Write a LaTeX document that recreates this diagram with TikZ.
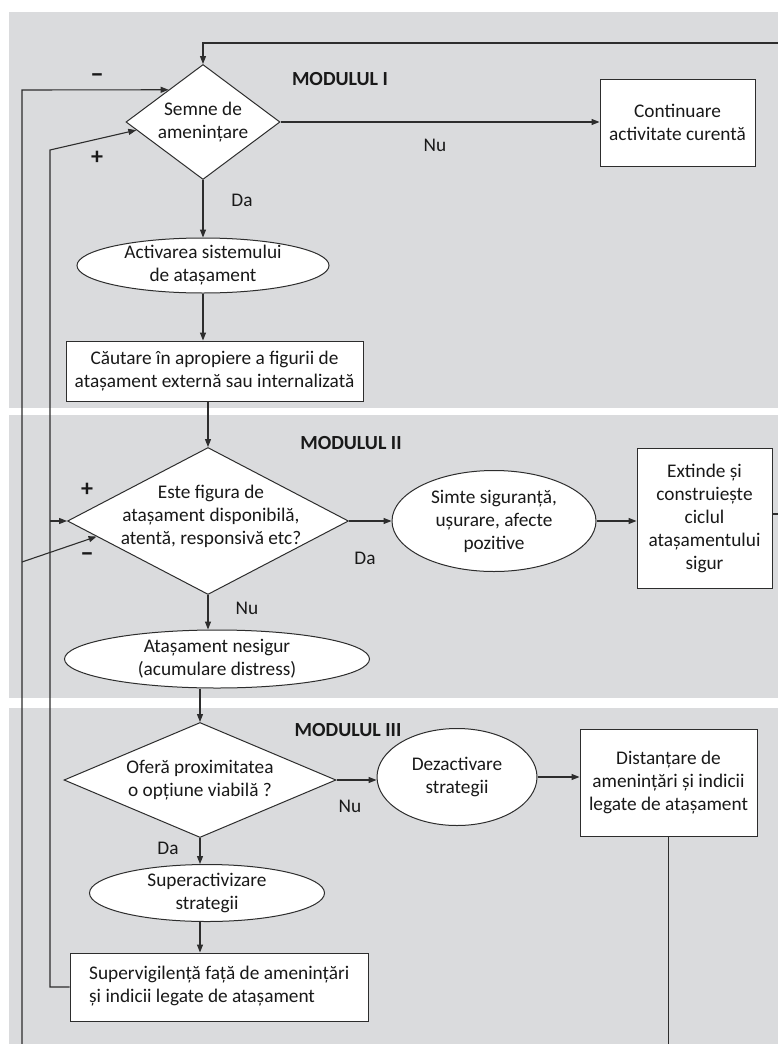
\documentclass[tikz,border=0pt]{standalone}
\usepackage{fontspec}
\setmainfont{Carlito}
\usetikzlibrary{shapes.geometric,arrows.meta,calc}
\definecolor{bg}{RGB}{218,219,221}
\definecolor{lc}{RGB}{45,45,45}
\definecolor{tc}{RGB}{25,25,25}
\begin{document}
\begin{tikzpicture}[x=1pt,y=-1pt,
  every node/.style={font=\fontsize{19.3}{23}\selectfont, text=tc},
  shp/.style={draw=lc, fill=white, line width=1pt, inner sep=0pt},
  dia/.style={shp, diamond},
  ell/.style={shp, ellipse},
  box/.style={shp, rectangle, align=center},
  txt/.style={align=center, inner sep=0pt},
  conn/.style={draw=lc, line width=1.1pt},
  arr/.style={conn, -{Triangle[length=8pt,width=6pt]}},
  modl/.style={font=\fontsize{20}{24}\selectfont\bfseries},
  sgn/.style={font=\fontsize{24}{26}\selectfont\bfseries, inner sep=0pt},
  mns/.style={font=\fontsize{27}{28}\selectfont\bfseries, inner sep=0pt}
]
\useasboundingbox (0,0) rectangle (778,1044);
\clip (0,0) rectangle (778,1044);
\fill[white] (0,0) rectangle (778,1044);
\fill[bg] (9,12) rectangle (778,1044);
\fill[white] (9,408) rectangle (778,415);
\fill[white] (9,698) rectangle (778,708);

% Module I
\node[dia, minimum width=154pt, minimum height=115pt] (d1) at (203,122) {};
\node[txt] at (d1) {Semne de\\amenințare};
\node[modl] at (340,79) {MODULUL I};
\node[box, minimum width=155pt, minimum height=87pt] (c1) at (677.5,122.5) {Continuare\\activitate curentă};
\coordinate (tr) at (778,43);
\draw[arr] (tr) -| (d1.north);
\draw[arr] (d1.east) -- (d1.east -| c1.west);
\node at (435,145) {Nu};
\node at (242,200) {Da};
\node[ell, minimum width=252pt, minimum height=55pt] (e1) at (203,265.5) {};
\node[txt] at (e1) {Activarea sistemului\\de atașament};
\draw[arr] (d1.south) -- (e1.north);
\node[box, minimum width=297pt, minimum height=60pt] (b2) at (214.5,371) {Căutare în apropiere a figurii de\\atașament externă sau internalizată};
\draw[arr] (e1.south) -- (e1.south |- b2.north);

% Module II
\node[dia, minimum width=281pt, minimum height=147pt] (d2) at (208,521) {};
\node[txt] at (211,516) {Este figura de\\atașament disponibilă,\\atentă, responsivă etc?};
\draw[arr] (d2.north |- b2.south) -- (d2.north);
\node[modl] at (351,443) {MODULUL II};
\node[ell, minimum width=204pt, minimum height=101pt] (e2) at (494,521) {};
\node[txt] at (e2) {Simte siguranță,\\ușurare, afecte\\pozitive};
\draw[arr] (d2.east) -- (d2.east -| e2.west);
\node[box, minimum width=135pt, minimum height=140pt] (b3) at (704.5,518) {Extinde și\\construiește\\ciclul\\atașamentului\\sigur};
\draw[arr] (e2.east) -- (e2.east -| b3.west);
\coordinate (r2) at (778,514);
\draw[conn] (r2 -| b3.east) -- (r2);
\node at (365,558) {Da};
\node at (247,608) {Nu};
\node[ell, minimum width=305pt, minimum height=58pt] (e3) at (217,659) {};
\node[txt] at (e3) {Atașament nesigur\\(acumulare distress)};
\draw[arr] (d2.south) -- (d2.south |- e3.north);

% Module III
\node[dia, minimum width=272pt, minimum height=115pt] (d3) at (200,780) {};
\node[txt] at (d3) {Oferă proximitatea\\o opțiune viabilă ?};
\draw[arr] (d3.north |- e3.south) -- (d3.north);
\node[modl] at (348,730) {MODULUL III};
\node[ell, minimum width=160pt, minimum height=97pt] (e4) at (457,777) {};
\node[txt] at (e4) {Dezactivare\\strategii};
\draw[arr] (d3.east) -- (d3.east -| e4.west);
\node at (350,806) {Nu};
\node[box, minimum width=177pt, minimum height=107pt] (b4) at (668.5,782.5) {Distanțare de\\amenințări și indicii\\legate de atașament};
\draw[arr] (e4.east) -- (e4.east -| b4.west);
\coordinate (bb) at (668.5,1044);
\draw[conn] (b4.south) -- (bb);
\node at (168,848) {Da};
\node[ell, minimum width=235pt, minimum height=57pt] (e5) at (207,893) {};
\node[txt] at (e5) {Superactivizare\\strategii};
\draw[arr] (d3.south) -- (d3.south |- e5.north);
\node[box, minimum width=298pt, minimum height=68pt] (b5) at (219,987) {};
\node[inner sep=0pt, align=left, anchor=west] at (89,986) {Supervigilență față de amenințări\\și indicii legate de atașament};
\draw[arr] (d3.south |- e5.south) -- (d3.south |- b5.north);

% feedback loops
\coordinate (il) at (50,150);
\draw[arr] (b5.west) -| (il) -- ($(d1.west)!0.14!(d1.south)$);
\draw[arr] (il |- d2.west) -- (d2.west);
\coordinate (ol) at (22,1044);
\coordinate (olt) at (22,90);
\draw[arr] (ol) -- (olt) -- ($(d1.west)!0.556!(d1.north)$);
\coordinate (ol2) at (22,562);
\draw[arr] (ol2) -- ($(d2.west)!0.21!(d2.south)$);
\node[mns] at (97,78) {–};
\node[sgn] at (97,158) {+};
\node[sgn] at (87,490) {+};
\node[mns] at (87,557) {–};
\end{tikzpicture}
\end{document}
